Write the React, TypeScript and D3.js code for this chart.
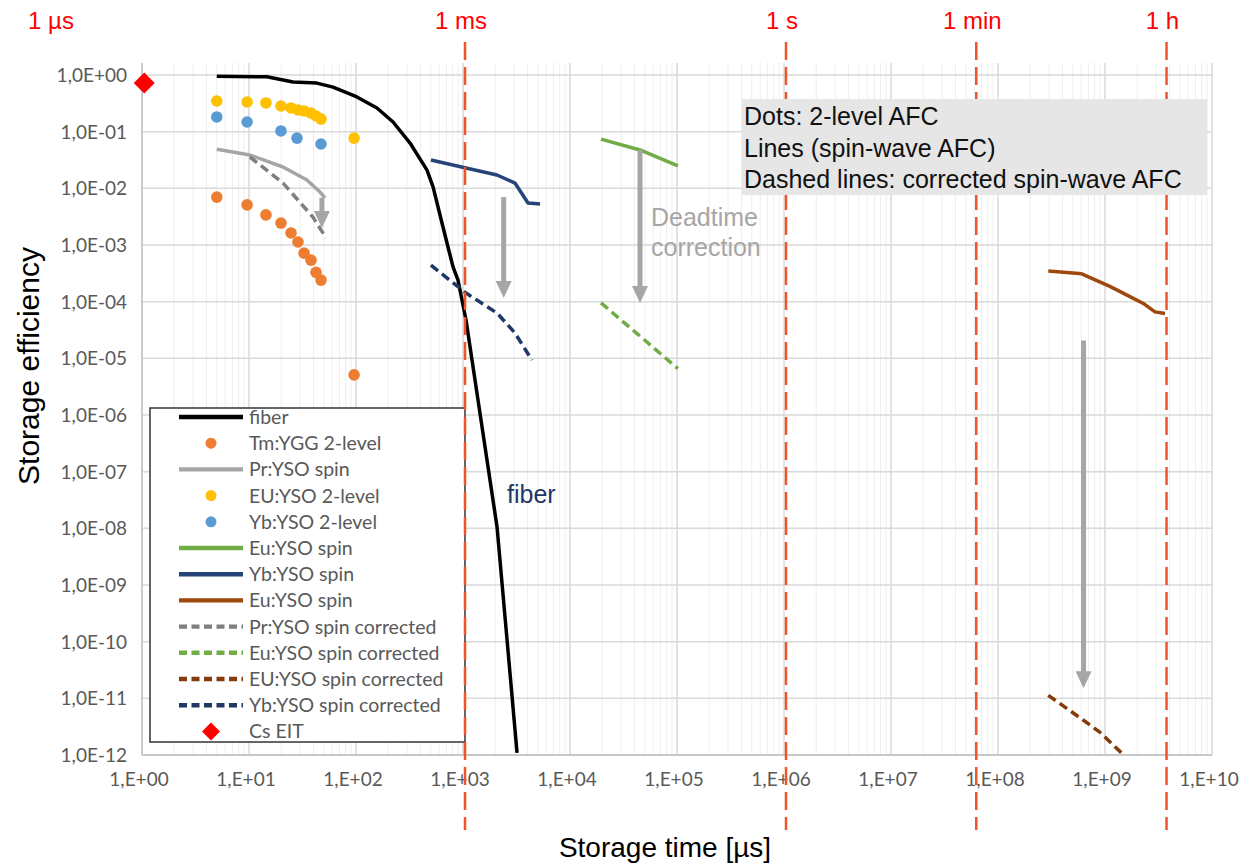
import React from 'react';
import * as d3 from 'd3';

// ---- data (storage time in µs, efficiency) ----
const fiberTime = [5, 14.7, 25.8, 43, 61, 102, 157, 222, 320, 461, 525, 650, 807, 898, 1067, 2080, 3200];
const fiberEff = [0.95, 0.93, 0.75, 0.72, 0.61, 0.41, 0.262, 0.148, 0.063, 0.021, 0.0106, 2.08e-3, 4.1e-4, 2.4e-4, 4.75e-5, 1.06e-8, 1.09e-12];

const twoLevelTime = [5, 9.6, 14.4, 19.9, 24.7, 28.7, 32.7, 38, 42.3, 47.1, 96];
const tmYggEff = [7.0e-3, 5.1e-3, 3.4e-3, 2.44e-3, 1.63e-3, 1.13e-3, 7.2e-4, 5.4e-4, 3.3e-4, 2.4e-4, 5.1e-6];
const euYso2Eff = [0.348, 0.334, 0.321, 0.284, 0.262, 0.241, 0.232, 0.213, 0.189, 0.167, 0.077];

const ybYso2Time = [5, 9.6, 19.9, 28.1, 47.1];
const ybYso2Eff = [0.182, 0.148, 0.103, 0.077, 0.0606];

const prSpinTime = [5, 10.2, 20.8, 34.8, 46.1, 51.3];
const prSpinEff = [0.049, 0.0387, 0.0238, 0.014, 8.6e-3, 6.8e-3];
const prCorrTime = [10.2, 20.8, 39.6, 52.5];
const prCorrEff = [0.0357, 0.0124, 3.1e-3, 1.33e-3];

const ybSpinTime = [502, 1067, 2080, 3060, 4050, 5250];
const ybSpinEff = [0.0316, 0.0229, 0.0172, 0.0124, 5.5e-3, 5.3e-3];
const ybCorrTime = [502, 1067, 2080, 3060, 4410];
const ybCorrEff = [4.4e-4, 1.42e-4, 6.3e-5, 2.8e-5, 9.3e-6];

const euSpinTime = [19500, 45100, 102000];
const euSpinEff = [0.074, 0.0475, 0.0248];
const euCorrTime = [19500, 102000];
const euCorrEff = [9.5e-5, 6.6e-6];

const euHfTime = [2.95e8, 6.05e8, 1.11e9, 1.71e9, 2.28e9, 2.93e9, 3.64e9];
const euHfEff = [3.46e-4, 3.1e-4, 1.86e-4, 1.23e-4, 9.3e-5, 6.6e-5, 6.2e-5];
const euHfCorrTime = [2.95e8, 6.3e8, 9.0e8, 1.48e9];
const euHfCorrEff = [1.13e-11, 4.1e-12, 2.5e-12, 1.02e-12];

const csEitTime = [1.05];
const csEitEff = [0.72];

// deadtime correction arrows: [time, from, to]
const arrows = [
  [48, 6.8e-3, 2.0e-3],
  [2400, 7.0e-3, 1.16e-4],
  [45100, 0.0475, 9.5e-5],
  [6.3e8, 2.06e-5, 1.5e-11],
];

const timeMarks = [1e3, 1e6, 6e7, 3.6e9];
const timeLabels = ['1 ms', '1 s', '1 min', '1 h'];

const xDecades = d3.range(0, 11);
const yDecades = d3.range(0, 13);

const series = [
  { name: 'fiber', kind: 'line', color: '#000000', dash: null, t: fiberTime, v: fiberEff },
  { name: 'Tm:YGG 2-level', kind: 'dot', color: '#ED7D31', dash: null, t: twoLevelTime, v: tmYggEff },
  { name: 'Pr:YSO spin', kind: 'line', color: '#A5A5A5', dash: null, t: prSpinTime, v: prSpinEff },
  { name: 'EU:YSO 2-level', kind: 'dot', color: '#FFC000', dash: null, t: twoLevelTime, v: euYso2Eff },
  { name: 'Yb:YSO 2-level', kind: 'dot', color: '#5B9BD5', dash: null, t: ybYso2Time, v: ybYso2Eff },
  { name: 'Eu:YSO spin', kind: 'line', color: '#70AD47', dash: null, t: euSpinTime, v: euSpinEff },
  { name: 'Yb:YSO spin', kind: 'line', color: '#264478', dash: null, t: ybSpinTime, v: ybSpinEff },
  { name: 'Eu:YSO spin', kind: 'line', color: '#9E480E', dash: null, t: euHfTime, v: euHfEff },
  { name: 'Pr:YSO spin corrected', kind: 'line', color: '#7F7F7F', dash: '9,5', t: prCorrTime, v: prCorrEff },
  { name: 'Eu:YSO spin corrected', kind: 'line', color: '#70AD47', dash: '9,5', t: euCorrTime, v: euCorrEff },
  { name: 'EU:YSO spin corrected', kind: 'line', color: '#843C0C', dash: '9,5', t: euHfCorrTime, v: euHfCorrEff },
  { name: 'Yb:YSO spin corrected', kind: 'line', color: '#1F3864', dash: '9,5', t: ybCorrTime, v: ybCorrEff },
  { name: 'Cs EIT', kind: 'diamond', color: '#FF0000', dash: null, t: csEitTime, v: csEitEff },
];

const W = 1244;
const H = 865;
const plot = { left: 142, right: 1212, top: 75, bottom: 755 };

const x = d3.scaleLog().domain([1, 1e10]).range([plot.left, plot.right]);
const y = d3.scaleLog().domain([1e-12, 1]).range([plot.bottom, plot.top]);

const pad2 = (n: number) => String(n).padStart(2, '0');
const diamond = (r: number) => `M0,${-r}L${r},0L0,${r}L${-r},0Z`;

const tickFont = 'Lato, "Open Sans", sans-serif';
const arial = '"Liberation Sans", Arial, sans-serif';

export default function App() {
  const path = (t: number[], v: number[]) =>
    d3.line<[number, number]>().x(d => x(d[0])).y(d => y(d[1]))(t.map((ti, i) => [ti, v[i]]));

  const minors: number[] = [];
  xDecades.slice(0, 10).forEach(e => {
    for (let k = 2; k <= 9; k++) minors.push(k * 10 ** e);
  });

  const legendX = 150;
  const legendY = 408;
  const rowH = 26.2;

  return (
    <svg width={W} height={H} style={{ position: 'absolute', left: 0, top: 0, background: '#fff' }}>
      <defs>
        <clipPath id="plotClip">
          <rect x={plot.left} y={plot.top - 15} width={plot.right - plot.left} height={plot.bottom - plot.top + 15} />
        </clipPath>
      </defs>

      {/* grid */}
      {minors.map((m, i) => (
        <line key={'mn' + i} x1={x(m)} x2={x(m)} y1={63} y2={plot.bottom} stroke="#EEEEEE" strokeWidth={1} />
      ))}
      {xDecades.map(e => (
        <line key={'xg' + e} x1={x(10 ** e)} x2={x(10 ** e)} y1={63} y2={plot.bottom} stroke="#D9D9D9" strokeWidth={1.5} />
      ))}
      {yDecades.map(e => (
        <line key={'yg' + e} x1={plot.left} x2={plot.right} y1={y(10 ** -e)} y2={y(10 ** -e)} stroke="#D9D9D9" strokeWidth={1.5} />
      ))}
      <line x1={plot.left} x2={plot.left} y1={63} y2={plot.bottom} stroke="#C8C8C8" strokeWidth={1.8} />
      <line x1={plot.left} x2={plot.right} y1={plot.bottom} y2={plot.bottom} stroke="#C8C8C8" strokeWidth={1.8} />

      {/* tick labels */}
      {yDecades.map(e => (
        <text key={'yl' + e} x={127} y={y(10 ** -e)} dy="0.36em" textAnchor="end"
          fontFamily={tickFont} fontSize={19} fill="#595959">
          {e === 0 ? '1,0E+00' : `1,0E-${pad2(e)}`}
        </text>
      ))}
      {xDecades.map(e => (
        <text key={'xl' + e} x={x(10 ** e) - 3} y={786} textAnchor="middle"
          fontFamily={tickFont} fontSize={19} fill="#595959">
          {`1,E+${pad2(e)}`}
        </text>
      ))}

      {/* axis titles */}
      <text transform="translate(39,366) rotate(-90)" textAnchor="middle" fontFamily={arial} fontSize={30} fill="#000">
        Storage efficiency
      </text>
      <text x={665} y={857} textAnchor="middle" fontFamily={arial} fontSize={28} fill="#000">
        Storage time [µs]
      </text>

      {/* series */}
      <g clipPath="url(#plotClip)">
        {series.filter(s => s.kind === 'line').map((s, i) => (
          <path key={'s' + i} d={path(s.t, s.v) || ''} fill="none" stroke={s.color}
            strokeWidth={3.5} strokeDasharray={s.dash || undefined} strokeLinejoin="round" />
        ))}
        {series.filter(s => s.kind === 'dot').map((s, i) =>
          s.t.map((t, j) => (
            <circle key={'d' + i + '-' + j} cx={x(t)} cy={y(s.v[j])} r={5.8} fill={s.color} />
          ))
        )}
      </g>
      {series.filter(s => s.kind === 'diamond').map((s, i) =>
        s.t.map((t, j) => (
          <path key={'m' + i + '-' + j} d={diamond(10.5)} transform={`translate(${x(t)},${y(s.v[j])})`} fill={s.color} />
        ))
      )}

      {/* deadtime arrows */}
      {arrows.map(([t, v0, v1], i) => {
        const ax = x(t);
        const y0 = y(v0);
        const y1 = y(v1);
        return (
          <g key={'a' + i}>
            <line x1={ax} x2={ax} y1={y0} y2={y1 - 14} stroke="#A6A6A6" strokeWidth={5} />
            <path d={`M${ax - 8},${y1 - 17}L${ax + 8},${y1 - 17}L${ax},${y1}Z`} fill="#A6A6A6" />
          </g>
        );
      })}

      <text x={507} y={503} fontFamily={arial} fontSize={25} fill="#1F3864">fiber</text>
      <text x={651} y={226} fontFamily={arial} fontSize={25} fill="#A6A6A6">Deadtime</text>
      <text x={651} y={256} fontFamily={arial} fontSize={25} fill="#A6A6A6">correction</text>

      {/* legend */}
      <rect x={legendX} y={legendY} width={315} height={334} fill="#fff" stroke="#333" strokeWidth={1.5} />
      {series.map((s, i) => {
        const ly = legendY + 9 + i * rowH;
        return (
          <g key={'lg' + i}>
            {s.kind === 'line' && (
              <line x1={179} x2={243} y1={ly} y2={ly} stroke={s.color} strokeWidth={4.4}
                strokeDasharray={s.dash ? '8,4.5' : undefined} />
            )}
            {s.kind === 'dot' && <circle cx={211} cy={ly} r={5.5} fill={s.color} />}
            {s.kind === 'diamond' && <path d={diamond(9)} transform={`translate(211,${ly})`} fill={s.color} />}
            <text x={249} y={ly} dy="0.36em" fontFamily={tickFont} fontSize={19.5} fill="#595959">{s.name}</text>
          </g>
        );
      })}

      {/* time scale markers */}
      {timeMarks.map((t, i) => (
        <line key={'tm' + i} x1={x(t) + 2} x2={x(t) + 2} y1={42} y2={830} stroke="#F0552A" strokeWidth={2.5} strokeDasharray="18,7" />
      ))}
      <text x={51} y={29} textAnchor="middle" fontFamily={arial} fontSize={24} fill="#FF0000">1 µs</text>
      {timeMarks.map((t, i) => (
        <text key={'tl' + i} x={x(t) - 2} y={29} textAnchor="middle" fontFamily={arial} fontSize={24} fill="#FF0000">
          {timeLabels[i]}
        </text>
      ))}

      {/* note box */}
      <rect x={742} y={99} width={465} height={96} fill="#E6E6E6" />
      <text x={744} y={125} fontFamily={arial} fontSize={25} fill="#111">Dots: 2-level AFC</text>
      <text x={744} y={157} fontFamily={arial} fontSize={25} fill="#111">Lines (spin-wave AFC)</text>
      <text x={744} y={188} fontFamily={arial} fontSize={25} fill="#111">Dashed lines: corrected spin-wave AFC</text>
    </svg>
  );
}
